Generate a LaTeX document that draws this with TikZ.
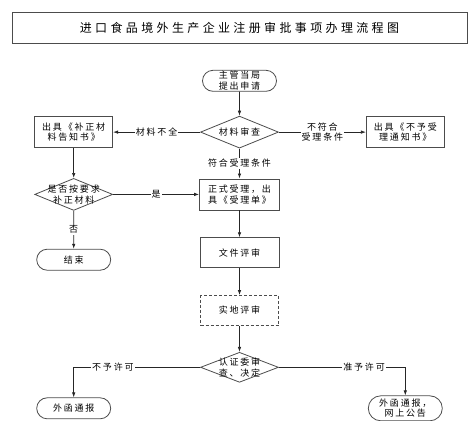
\documentclass[tikz,border=0pt]{standalone}
\usepackage{fontspec}
\setmainfont{Noto Sans CJK SC}
\newfontfamily\cjk[LetterSpace=20]{Noto Sans CJK SC}
\newfontfamily\cjktitle[LetterSpace=28]{Noto Sans CJK SC}
\usetikzlibrary{arrows.meta, positioning, shapes.geometric, shapes.misc, calc}
% text in a diamond that does not size the shape
\newcommand\dtxt[1]{\makebox[0pt]{\smash{\raisebox{-3.5pt}{\begin{tabular}{@{}c@{}}#1\end{tabular}}}}}

\begin{document}
\begin{tikzpicture}[
    font=\cjk\fontsize{9}{10.5}\selectfont,
    >={Latex[length=5pt,width=3.5pt]},
    node distance=25pt,
    box/.style={draw=black!70, line width=0.8pt, align=center, minimum width=78pt, minimum height=31pt, inner sep=2pt},
    dashbox/.style={box, dash pattern=on 3pt off 2pt},
    term/.style={box, rounded rectangle, minimum height=21pt, inner ysep=0.5pt},
    dec/.style={diamond, draw=black!70, line width=0.8pt, minimum width=78pt, minimum height=32pt, inner sep=0pt},
    line/.style={->, draw=black!85, line width=0.7pt},
    lbl/.style={fill=white, inner sep=1pt, align=center}
]
\useasboundingbox (0,0) rectangle (475pt,-421pt);

% Title
\node[box, minimum width=455pt, minimum height=31pt, font=\cjktitle\fontsize{12}{14}\selectfont]
    (title) at (239.5pt,-28pt) {进口食品境外生产企业注册审批事项办理流程图};

% Application and check
\node[term, below=26pt of title] (apply) {主管当局\\提出申请};
\node[dec, below=24pt of apply] (chk) {\dtxt{材料审查}};
\node[box, left=87pt of chk] (fixnote) {出具《补正材\\料告知书》};
\node[box, right=87pt of chk] (rejnote) {出具《不予受\\理通知书》};

% Acceptance branch
\node[box, minimum width=80pt, below=30pt of chk] (accept) {正式受理，出\\具《受理单》};
\node[dec, below=30pt of fixnote] (fixed) {\dtxt{是否按要求\\补正材料}};
\node[term, below=38pt of fixed] (endnode) {结束};

% Reviews
\node[box, minimum width=79pt, minimum height=30pt, below=27pt of accept] (docrev) {文件评审};
\node[dashbox, minimum height=30pt, below=27pt of docrev] (siterev) {实地评审};
\node[dec, minimum height=30pt, below=26pt of siterev] (decide) {\dtxt{认证委审\\查、决定}};

% Results
\node[term] (refuse) at ($(decide -| endnode)+(0,-41pt)$) {外函通报};
\node[term, minimum height=25pt] (grant) at ($(decide -| rejnote)+(0,-41pt)$) {外函通报，\\网上公告};

% Connections
\draw[line] (apply) -- (chk);
\draw[line] (chk.west) -- node[lbl]{材料不全} (fixnote.east);
\draw[line] (chk.east) -- node[lbl]{不符合\\受理条件} (rejnote.west);
\draw[line] (chk.south) -- node[lbl]{符合受理条件} (accept.north);

\draw[line] (fixnote) -- (fixed);
\draw[line] (fixed.east) -- node[lbl]{是} (fixed.east -| accept.west);
\draw[line] (fixed) -- node[lbl]{否} (endnode);

\draw[line] (accept) -- (docrev);
\draw[line] (docrev) -- (siterev);
\draw[line] (siterev) -- (decide);

\draw[line] (decide.west) -| node[lbl, pos=0.345]{不予许可} (refuse.north);
\draw[line] (decide.east) -| node[lbl, pos=0.337]{准予许可} (grant.north);

\end{tikzpicture}
\end{document}
